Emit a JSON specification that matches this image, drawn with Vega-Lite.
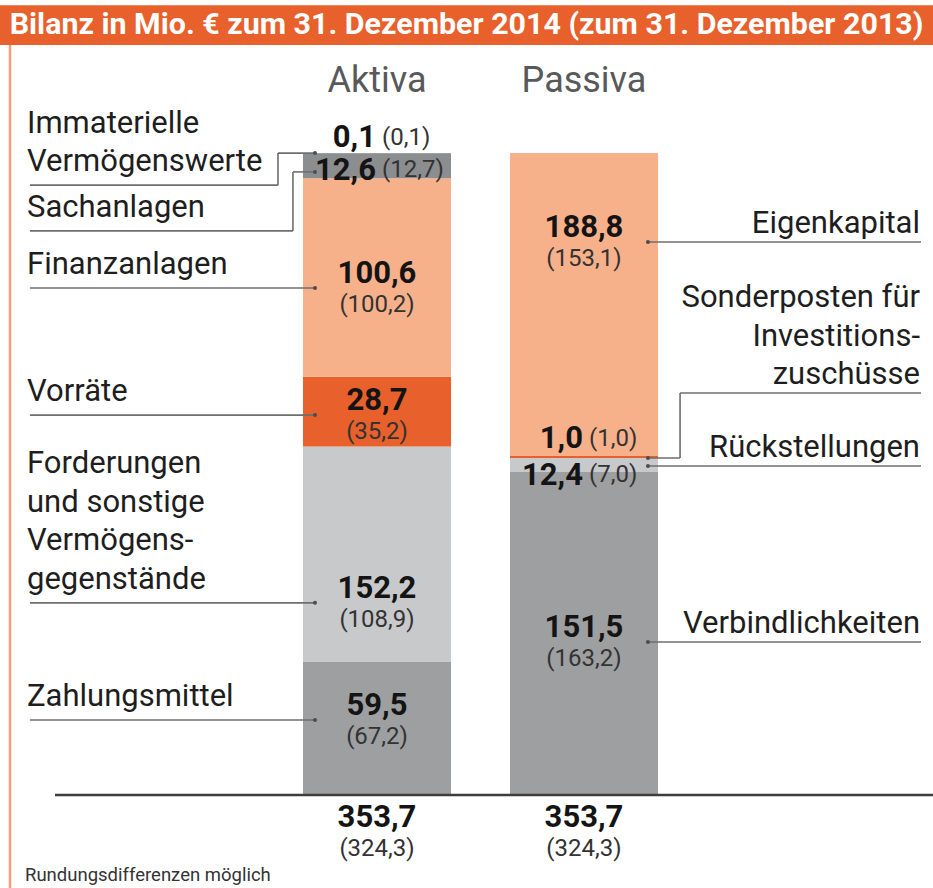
{
  "$schema": "https://vega.github.io/schema/vega-lite/v6.json",
  "width": 933,
  "height": 888,
  "autosize": {"type": "none"},
  "padding": 0,
  "background": "#ffffff",
  "config": {"view": {"stroke": null}, "font": "Roboto"},
  "data": {
    "values": [
      {"side": "Aktiva", "item": "Zahlungsmittel", "label": "Zahlungsmittel", "order": 1, "v2014": 59.5, "v2013": 67.2},
      {"side": "Aktiva", "item": "Forderungen", "label": "Forderungen\nund sonstige\nVermögens-\ngegenstände", "order": 2, "v2014": 152.2, "v2013": 108.9},
      {"side": "Aktiva", "item": "Vorräte", "label": "Vorräte", "order": 3, "v2014": 28.7, "v2013": 35.2},
      {"side": "Aktiva", "item": "Finanzanlagen", "label": "Finanzanlagen", "order": 4, "v2014": 100.6, "v2013": 100.2},
      {"side": "Aktiva", "item": "Sachanlagen", "label": "Sachanlagen", "order": 5, "v2014": 12.6, "v2013": 12.7},
      {"side": "Aktiva", "item": "Immaterielle Vermögenswerte", "label": "Immaterielle\nVermögenswerte", "order": 6, "v2014": 0.1, "v2013": 0.1},
      {"side": "Passiva", "item": "Verbindlichkeiten", "label": "Verbindlichkeiten", "order": 1, "v2014": 151.5, "v2013": 163.2},
      {"side": "Passiva", "item": "Rückstellungen", "label": "Rückstellungen", "order": 2, "v2014": 12.4, "v2013": 7.0},
      {"side": "Passiva", "item": "Sonderposten für Investitionszuschüsse", "label": "Sonderposten für\nInvestitions-\nzuschüsse", "order": 3, "v2014": 1.0, "v2013": 1.0},
      {"side": "Passiva", "item": "Eigenkapital", "label": "Eigenkapital", "order": 4, "v2014": 188.8, "v2013": 153.1}
    ]
  },
  "transform": [
    {"stack": "v2013", "groupby": ["side"], "sort": [{"field": "order", "order": "ascending"}], "as": ["y0", "y1"]},
    {"calculate": "(datum.y0 + datum.y1) / 2", "as": "mid"},
    {"calculate": "datum.item === 'Zahlungsmittel' ? 4.3 : datum.item === 'Forderungen' ? -24.6 : datum.item === 'Vorräte' ? -1.8 : datum.item === 'Finanzanlagen' ? -5.3 : datum.item === 'Sachanlagen' ? -3.1 : datum.item === 'Verbindlichkeiten' ? -4.3 : datum.item === 'Rückstellungen' ? -0.5 : datum.item === 'Eigenkapital' ? 31.6 : datum.item === 'Sonderposten für Investitionszuschüsse' ? -0.45 : 0", "as": "dn"},
    {"calculate": "datum.item === 'Sachanlagen' ? -29.8 : datum.item === 'Immaterielle Vermögenswerte' ? -16.2 : datum.item === 'Sonderposten für Investitionszuschüsse' ? 32.8 : 0", "as": "ln"},
    {"calculate": "datum.item === 'Sachanlagen' ? -1.5 : datum.item === 'Immaterielle Vermögenswerte' ? 8.5 : datum.item === 'Sonderposten für Investitionszuschüsse' ? 10 : datum.item === 'Rückstellungen' ? -4.5 : 0", "as": "tn"},
    {"calculate": "datum.mid + datum.dn", "as": "dotY"},
    {"calculate": "datum.dotY + datum.ln", "as": "lineY"},
    {"calculate": "datum.mid + datum.tn", "as": "textY"},
    {"calculate": "datum.lineY + (length(split(datum.label, '\\n')) - 1) * 38.5 / 1.97965", "as": "labelY"},
    {"calculate": "replace(format(datum.v2014, '.1f'), '.', ',')", "as": "t14"},
    {"calculate": "'(' + replace(format(datum.v2013, '.1f'), '.', ',') + ')'", "as": "t13"}
  ],
  "layer": [
    {
      "mark": {"type": "bar"},
      "encoding": {
        "x": {"field": "side", "type": "nominal", "scale": {"domain": ["Aktiva", "Passiva"], "range": [303, 658], "paddingInner": 0.285, "paddingOuter": 0, "round": false}, "axis": null},
        "y": {"field": "y1", "type": "quantitative", "scale": {"domain": [-46.98, 401.59], "nice": false, "zero": false}, "axis": null},
        "y2": {"field": "y0"},
        "color": {
          "field": "item",
          "type": "nominal",
          "scale": {
            "domain": ["Zahlungsmittel", "Forderungen", "Vorräte", "Finanzanlagen", "Sachanlagen", "Immaterielle Vermögenswerte", "Verbindlichkeiten", "Rückstellungen", "Sonderposten für Investitionszuschüsse", "Eigenkapital"],
            "range": ["#9e9fa1", "#c8c9cb", "#e8602b", "#f6b18b", "#8c8d8f", "#8c8d8f", "#9e9fa1", "#c8c9cb", "#e8602b", "#f6b18b"]
          },
          "legend": null
        }
      }
    },
    {
      "transform": [{"filter": "datum.order === 1 && datum.side === 'Aktiva'"}],
      "mark": {"type": "rect", "color": "#e8602b"},
      "encoding": {
        "x": {"field": "side", "type": "nominal", "bandPosition": -2.05, "axis": null},
        "x2": {"field": "side", "bandPosition": 4.27},
        "y": {"datum": 398.9, "type": "quantitative", "axis": null},
        "y2": {"datum": 378.9}
      }
    },
    {
      "transform": [{"filter": "datum.order === 1 && datum.side === 'Aktiva'"}],
      "mark": {"type": "rule", "color": "#f2a07c", "strokeWidth": 2.5},
      "encoding": {
        "x": {"field": "side", "type": "nominal", "bandPosition": -1.98, "axis": null},
        "y": {"datum": 378.9, "type": "quantitative", "axis": null},
        "y2": {"datum": -46.98}
      }
    },
    {
      "transform": [{"filter": "datum.order === 1 && datum.side === 'Aktiva'"}],
      "mark": {"type": "rule", "color": "#3d3d3d", "strokeWidth": 2.5},
      "encoding": {
        "x": {"field": "side", "type": "nominal", "bandPosition": -1.676, "axis": null},
        "x2": {"field": "side", "bandPosition": 4.27},
        "y": {"datum": 0, "type": "quantitative", "axis": null}
      }
    },
    {
      "transform": [{"filter": "datum.side === 'Aktiva' && datum.ln === 0"}],
      "mark": {"type": "rule", "color": "#6d6e70", "strokeWidth": 1.6},
      "encoding": {
        "x": {"field": "side", "type": "nominal", "bandPosition": 0.081, "axis": null},
        "x2": {"field": "side", "bandPosition": -1.845},
        "y": {"field": "dotY", "type": "quantitative", "axis": null}
      }
    },
    {
      "transform": [{"filter": "datum.side === 'Passiva' && datum.ln === 0"}],
      "mark": {"type": "rule", "color": "#6d6e70", "strokeWidth": 1.6},
      "encoding": {
        "x": {"field": "side", "type": "nominal", "bandPosition": 0.932, "axis": null},
        "x2": {"field": "side", "bandPosition": 2.777},
        "y": {"field": "dotY", "type": "quantitative", "axis": null}
      }
    },
    {
      "transform": [{"filter": "datum.item === 'Immaterielle Vermögenswerte'"}],
      "mark": {"type": "rule", "color": "#6d6e70", "strokeWidth": 1.6},
      "encoding": {
        "x": {"field": "side", "type": "nominal", "bandPosition": -0.169, "axis": null},
        "x2": {"field": "side", "bandPosition": -1.845},
        "y": {"field": "lineY", "type": "quantitative", "axis": null}
      }
    },
    {
      "transform": [{"filter": "datum.item === 'Immaterielle Vermögenswerte'"}],
      "mark": {"type": "rule", "color": "#6d6e70", "strokeWidth": 1.6},
      "encoding": {
        "x": {"field": "side", "type": "nominal", "bandPosition": -0.169, "axis": null},
        "y": {"field": "lineY", "type": "quantitative", "axis": null},
        "y2": {"field": "dotY"}
      }
    },
    {
      "transform": [{"filter": "datum.item === 'Immaterielle Vermögenswerte'"}],
      "mark": {"type": "rule", "color": "#6d6e70", "strokeWidth": 1.6},
      "encoding": {
        "x": {"field": "side", "type": "nominal", "bandPosition": -0.169, "axis": null},
        "x2": {"field": "side", "bandPosition": 0.081},
        "y": {"field": "dotY", "type": "quantitative", "axis": null}
      }
    },
    {
      "transform": [{"filter": "datum.item === 'Sachanlagen'"}],
      "mark": {"type": "rule", "color": "#6d6e70", "strokeWidth": 1.6},
      "encoding": {
        "x": {"field": "side", "type": "nominal", "bandPosition": -0.068, "axis": null},
        "x2": {"field": "side", "bandPosition": -1.845},
        "y": {"field": "lineY", "type": "quantitative", "axis": null}
      }
    },
    {
      "transform": [{"filter": "datum.item === 'Sachanlagen'"}],
      "mark": {"type": "rule", "color": "#6d6e70", "strokeWidth": 1.6},
      "encoding": {
        "x": {"field": "side", "type": "nominal", "bandPosition": -0.068, "axis": null},
        "y": {"field": "lineY", "type": "quantitative", "axis": null},
        "y2": {"field": "dotY"}
      }
    },
    {
      "transform": [{"filter": "datum.item === 'Sachanlagen'"}],
      "mark": {"type": "rule", "color": "#6d6e70", "strokeWidth": 1.6},
      "encoding": {
        "x": {"field": "side", "type": "nominal", "bandPosition": -0.068, "axis": null},
        "x2": {"field": "side", "bandPosition": 0.081},
        "y": {"field": "dotY", "type": "quantitative", "axis": null}
      }
    },
    {
      "transform": [{"filter": "datum.item === 'Sonderposten für Investitionszuschüsse'"}],
      "mark": {"type": "rule", "color": "#6d6e70", "strokeWidth": 1.6},
      "encoding": {
        "x": {"field": "side", "type": "nominal", "bandPosition": 1.149, "axis": null},
        "x2": {"field": "side", "bandPosition": 2.777},
        "y": {"field": "lineY", "type": "quantitative", "axis": null}
      }
    },
    {
      "transform": [{"filter": "datum.item === 'Sonderposten für Investitionszuschüsse'"}],
      "mark": {"type": "rule", "color": "#6d6e70", "strokeWidth": 1.6},
      "encoding": {
        "x": {"field": "side", "type": "nominal", "bandPosition": 1.149, "axis": null},
        "y": {"field": "lineY", "type": "quantitative", "axis": null},
        "y2": {"field": "dotY"}
      }
    },
    {
      "transform": [{"filter": "datum.item === 'Sonderposten für Investitionszuschüsse'"}],
      "mark": {"type": "rule", "color": "#6d6e70", "strokeWidth": 1.6},
      "encoding": {
        "x": {"field": "side", "type": "nominal", "bandPosition": 1.149, "axis": null},
        "x2": {"field": "side", "bandPosition": 0.932},
        "y": {"field": "dotY", "type": "quantitative", "axis": null}
      }
    },
    {
      "transform": [{"filter": "datum.side === 'Aktiva'"}],
      "mark": {"type": "point", "filled": true, "size": 16, "color": "#4d4d4d", "opacity": 1},
      "encoding": {
        "x": {"field": "side", "type": "nominal", "bandPosition": 0.081, "axis": null},
        "y": {"field": "dotY", "type": "quantitative", "axis": null}
      }
    },
    {
      "transform": [{"filter": "datum.side === 'Passiva'"}],
      "mark": {"type": "point", "filled": true, "size": 16, "color": "#4d4d4d", "opacity": 1},
      "encoding": {
        "x": {"field": "side", "type": "nominal", "bandPosition": 0.932, "axis": null},
        "y": {"field": "dotY", "type": "quantitative", "axis": null}
      }
    },
    {
      "transform": [{"filter": "datum.v2013 >= 15"}],
      "mark": {"type": "text", "font": "Roboto", "fontWeight": "bold", "fontSize": 31, "color": "#141414", "baseline": "middle", "dy": -14},
      "encoding": {
        "x": {"field": "side", "type": "nominal", "axis": null},
        "y": {"field": "dotY", "type": "quantitative", "axis": null},
        "text": {"field": "t14", "type": "nominal"}
      }
    },
    {
      "transform": [{"filter": "datum.v2013 >= 15"}],
      "mark": {"type": "text", "font": "Roboto", "fontSize": 24, "color": "#333333", "baseline": "middle", "dy": 17},
      "encoding": {
        "x": {"field": "side", "type": "nominal", "axis": null},
        "y": {"field": "dotY", "type": "quantitative", "axis": null},
        "text": {"field": "t13", "type": "nominal"}
      }
    },
    {
      "transform": [{"filter": "datum.v2013 < 15"}],
      "mark": {"type": "text", "font": "Roboto", "fontWeight": "bold", "fontSize": 31, "color": "#141414", "baseline": "middle", "align": "right", "dx": -1, "dy": 2},
      "encoding": {
        "x": {"field": "side", "type": "nominal", "axis": null},
        "y": {"field": "textY", "type": "quantitative", "axis": null},
        "text": {"field": "t14", "type": "nominal"}
      }
    },
    {
      "transform": [{"filter": "datum.v2013 < 15"}],
      "mark": {"type": "text", "font": "Roboto", "fontSize": 24, "color": "#333333", "baseline": "middle", "align": "left", "dx": 5, "dy": 1.5},
      "encoding": {
        "x": {"field": "side", "type": "nominal", "axis": null},
        "y": {"field": "textY", "type": "quantitative", "axis": null},
        "text": {"field": "t13", "type": "nominal"}
      }
    },
    {
      "transform": [{"filter": "datum.side === 'Aktiva'"}],
      "mark": {"type": "text", "font": "Roboto", "fontSize": 31, "color": "#1e1e1e", "align": "left", "baseline": "alphabetic", "dx": -276, "dy": -14, "lineBreak": "\n", "lineHeight": 38.5},
      "encoding": {
        "x": {"field": "side", "type": "nominal", "bandPosition": 0, "axis": null},
        "y": {"field": "labelY", "type": "quantitative", "axis": null},
        "text": {"field": "label", "type": "nominal"}
      }
    },
    {
      "transform": [{"filter": "datum.side === 'Passiva'"}],
      "mark": {"type": "text", "font": "Roboto", "fontSize": 31, "color": "#1e1e1e", "align": "right", "baseline": "alphabetic", "dx": 262, "dy": -9, "lineBreak": "\n", "lineHeight": 38.5},
      "encoding": {
        "x": {"field": "side", "type": "nominal", "bandPosition": 1, "axis": null},
        "y": {"field": "labelY", "type": "quantitative", "axis": null},
        "text": {"field": "label", "type": "nominal"}
      }
    },
    {
      "transform": [
        {"aggregate": [{"op": "sum", "field": "v2014", "as": "s14"}, {"op": "sum", "field": "v2013", "as": "s13"}], "groupby": ["side"]},
        {"calculate": "replace(format(datum.s14, '.1f'), '.', ',')", "as": "ts14"}
      ],
      "mark": {"type": "text", "font": "Roboto", "fontWeight": "bold", "fontSize": 31, "color": "#141414", "baseline": "middle", "dy": 23},
      "encoding": {
        "x": {"field": "side", "type": "nominal", "axis": null},
        "y": {"datum": 0, "type": "quantitative", "axis": null},
        "text": {"field": "ts14", "type": "nominal"}
      }
    },
    {
      "transform": [
        {"aggregate": [{"op": "sum", "field": "v2014", "as": "s14"}, {"op": "sum", "field": "v2013", "as": "s13"}], "groupby": ["side"]},
        {"calculate": "'(' + replace(format(datum.s13, '.1f'), '.', ',') + ')'", "as": "ts13"}
      ],
      "mark": {"type": "text", "font": "Roboto", "fontSize": 24, "color": "#333333", "baseline": "middle", "dy": 54},
      "encoding": {
        "x": {"field": "side", "type": "nominal", "axis": null},
        "y": {"datum": 0, "type": "quantitative", "axis": null},
        "text": {"field": "ts13", "type": "nominal"}
      }
    },
    {
      "transform": [{"filter": "datum.order === 1"}],
      "mark": {"type": "text", "font": "Roboto", "fontSize": 36, "color": "#58595b", "baseline": "alphabetic"},
      "encoding": {
        "x": {"field": "side", "type": "nominal", "axis": null},
        "y": {"datum": 355.1, "type": "quantitative", "axis": null},
        "text": {"field": "side", "type": "nominal"}
      }
    },
    {
      "transform": [{"filter": "datum.order === 1 && datum.side === 'Aktiva'"}],
      "mark": {"type": "text", "font": "Roboto", "fontWeight": "bold", "fontSize": 30.4, "color": "#ffffff", "baseline": "middle", "text": "Bilanz in Mio. € zum 31. Dezember 2014 (zum 31. Dezember 2013)"},
      "encoding": {
        "x": {"field": "side", "type": "nominal", "bandPosition": 1.105, "axis": null},
        "y": {"datum": 388.9, "type": "quantitative", "axis": null}
      }
    },
    {
      "transform": [{"filter": "datum.order === 1 && datum.side === 'Aktiva'"}],
      "mark": {"type": "text", "font": "Roboto", "fontSize": 18.5, "color": "#333333", "align": "left", "baseline": "alphabetic", "dx": -278, "text": "Rundungsdifferenzen möglich"},
      "encoding": {
        "x": {"field": "side", "type": "nominal", "bandPosition": 0, "axis": null},
        "y": {"datum": -43.44, "type": "quantitative", "axis": null}
      }
    }
  ]
}
